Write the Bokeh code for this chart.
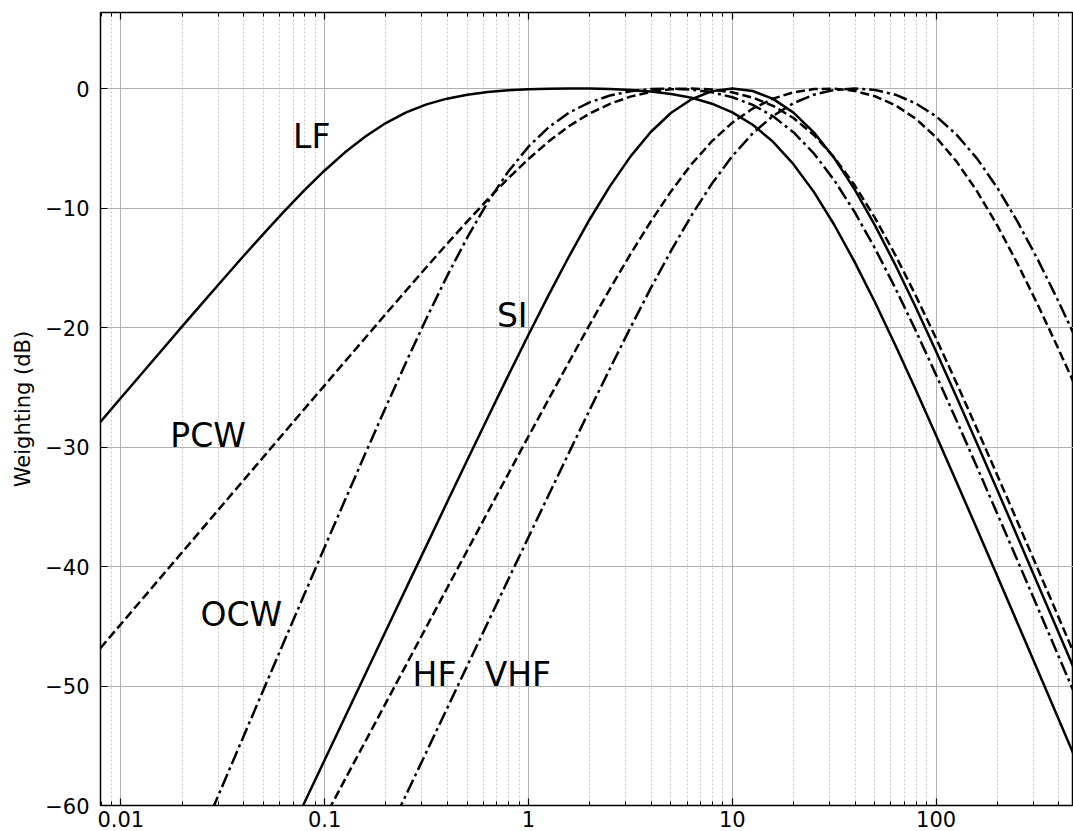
from bokeh.plotting import figure
from bokeh.models import Range1d, FixedTicker, LogAxis
from bokeh.core.properties import value
from bokeh.embed import file_html
from bokeh.resources import INLINE

# frequency samples (kHz), 10 per decade
freq = [0.007943, 0.01, 0.01259, 0.01585, 0.01995, 0.02512, 0.03162, 0.03981, 0.05012, 0.06310,
        0.07943, 0.1, 0.1259, 0.1585, 0.1995, 0.2512, 0.3162, 0.3981, 0.5012, 0.6310,
        0.7943, 1.0, 1.259, 1.585, 1.995, 2.512, 3.162, 3.981, 5.012, 6.310,
        7.943, 10.0, 12.59, 15.85, 19.95, 25.12, 31.62, 39.81, 50.12, 63.10,
        79.43, 100.0, 125.9, 158.5, 199.5, 251.2, 316.2, 398.1, 501.2]

lf_db = [-27.90, -25.90, -23.91, -21.92, -19.93, -17.96, -16.00, -14.06, -12.16, -10.30,
         -8.53, -6.86, -5.34, -4.01, -2.89, -2.00, -1.33, -0.85, -0.52, -0.30,
         -0.15, -0.06, -0.02, 0.00, -0.01, -0.05, -0.13, -0.25, -0.46, -0.78,
         -1.27, -2.00, -3.03, -4.46, -6.33, -8.65, -11.40, -14.51, -17.89, -21.48,
         -25.21, -29.03, -32.92, -36.85, -40.80, -44.77, -48.75, -52.74, -56.73]

pcw_db = [-46.83, -44.83, -42.83, -40.83, -38.83, -36.83, -34.83, -32.83, -30.83, -28.83,
          -26.83, -24.84, -22.84, -20.86, -18.87, -16.90, -14.94, -13.01, -11.12, -9.28,
          -7.53, -5.90, -4.42, -3.14, -2.09, -1.28, -0.68, -0.29, -0.07, 0.00,
          -0.08, -0.32, -0.76, -1.45, -2.47, -3.89, -5.76, -8.08, -10.83, -13.94,
          -17.33, -20.92, -24.65, -28.47, -32.36, -36.29, -40.24, -44.22, -48.20]

ocw_freq = freq[5:]
ocw_db = [-62.29, -58.30, -54.30, -50.31, -46.32, -42.35, -38.38, -34.44, -30.53, -26.67,
          -22.88, -19.22, -15.72, -12.46, -9.52, -6.97, -4.87, -3.23, -2.01, -1.16,
          -0.59, -0.23, -0.05, 0.00, -0.09, -0.32, -0.73, -1.37, -2.33, -3.66,
          -5.43, -7.67, -10.33, -13.38, -16.71, -20.26, -23.97, -27.78, -31.66, -35.58,
          -39.53, -43.50, -47.48, -51.46]

si_freq = freq[9:]
si_db = [-63.39, -59.79, -56.19, -52.59, -49.00, -45.40, -41.81, -38.23, -34.65, -31.09,
         -27.55, -24.05, -20.61, -17.25, -14.02, -10.96, -8.17, -5.70, -3.64, -2.03,
         -0.90, -0.22, 0.00, -0.21, -0.87, -2.02, -3.67, -5.82, -8.44, -11.45,
         -14.77, -18.31, -22.00, -25.81, -29.68, -33.60, -37.55, -41.52, -45.50, -49.48]

hf_freq = freq[10:]
hf_db = [-64.22, -61.02, -57.82, -54.63, -51.43, -48.23, -45.03, -41.84, -38.65, -35.46,
         -32.28, -29.11, -25.97, -22.85, -19.77, -16.77, -13.87, -11.13, -8.59, -6.33,
         -4.41, -2.86, -1.68, -0.85, -0.32, -0.05, -0.01, -0.20, -0.65, -1.40,
         -2.53, -4.09, -6.11, -8.58, -11.46, -14.68, -18.14, -21.79, -25.55]

vhf_freq = freq[14:]
vhf_db = [-62.69, -59.09, -55.50, -51.90, -48.30, -44.71, -41.12, -37.55, -33.98, -30.43,
          -26.90, -23.43, -20.02, -16.71, -13.56, -10.62, -7.96, -5.66, -3.76, -2.29,
          -1.23, -0.52, -0.12, 0.00, -0.12, -0.52, -1.24, -2.33, -3.86, -5.85,
          -8.30, -11.16, -14.36, -17.81, -21.45]

label_text = ["LF", "PCW", "OCW", "SI", "HF", "VHF"]
label_x = [0.07, 0.0175, 0.0246, 0.7, 0.27, 0.61]
label_y = [-5, -30, -45, -20, -50, -50]

x_ticks = [0.01, 0.1, 1, 10, 100]
x_tick_labels = ["0.01", "0.1", "1", "10", "100"]
y_ticks = [-60, -50, -40, -30, -20, -10, 0]
y_tick_labels = ["\u221260", "\u221250", "\u221240", "\u221230", "\u221220", "\u221210", "0"]

FONT = "DejaVu Sans"

p = figure(width=1073, height=831, x_axis_type="log",
           x_range=Range1d(0.00795, 472), y_range=Range1d(-60, 6.36),
           output_backend="svg", toolbar_location=None,
           min_border_left=100, min_border_right=0, min_border_top=12, min_border_bottom=26)
p.background_fill_color = "white"
p.border_fill_color = "white"
p.outline_line_color = "black"
p.outline_line_width = 1.5

minor = []
for dec in [0.001, 0.01, 0.1, 1, 10, 100]:
    for m in range(2, 10):
        minor.append(round(dec * m, 6))

xt = FixedTicker(ticks=x_ticks, minor_ticks=minor)
yt = FixedTicker(ticks=y_ticks, minor_ticks=[])

p.xaxis.ticker = xt
p.xgrid.ticker = xt
p.yaxis.ticker = yt
p.ygrid.ticker = yt

p.xaxis.major_label_overrides = dict(zip(x_ticks, x_tick_labels))
p.yaxis.major_label_overrides = dict(zip(y_ticks, y_tick_labels))

for ax in (p.xaxis[0], p.yaxis[0]):
    ax.axis_line_color = None
    ax.major_tick_in = 7
    ax.major_tick_out = 0
    ax.minor_tick_in = 4
    ax.minor_tick_out = 0
    ax.major_tick_line_color = "black"
    ax.minor_tick_line_color = "black"
    ax.major_tick_line_width = 1.2
    ax.minor_tick_line_width = 1
    ax.major_label_text_font = FONT
    ax.major_label_text_font_size = "21px"
    ax.major_label_text_color = "black"

p.xaxis.major_label_standoff = 5
p.yaxis.major_label_standoff = 11
p.yaxis.axis_label = "Weighting (dB)"
p.yaxis.axis_label_text_font = FONT
p.yaxis.axis_label_text_font_size = "21px"
p.yaxis.axis_label_text_font_style = "normal"
p.yaxis.axis_label_text_color = "black"
p.yaxis.axis_label_standoff = 7

top = LogAxis(ticker=xt, axis_line_color=None,
              major_tick_in=7, major_tick_out=0, minor_tick_in=4, minor_tick_out=0,
              major_tick_line_color="black", minor_tick_line_color="black",
              major_tick_line_width=1.2, minor_tick_line_width=1,
              major_label_text_font_size="1px", major_label_text_alpha=0,
              major_label_standoff=0)
top.major_label_overrides = {t: "" for t in x_ticks}
p.add_layout(top, "above")

p.xgrid.grid_line_color = "#b0b0b0"
p.xgrid.grid_line_width = 1
p.xgrid.minor_grid_line_color = "#c8c8c8"
p.xgrid.minor_grid_line_dash = "2 2"
p.xgrid.minor_grid_line_width = 1
p.ygrid.grid_line_color = "#b0b0b0"
p.ygrid.grid_line_width = 1

LW = 2.5
DASH = "9 4"
DASHDOT = "14 4 3 4"
p.line(freq, lf_db, line_color="black", line_width=LW)
p.line(si_freq, si_db, line_color="black", line_width=LW)
p.line(freq, pcw_db, line_color="black", line_width=LW, line_dash=DASH)
p.line(hf_freq, hf_db, line_color="black", line_width=LW, line_dash=DASH)
p.line(ocw_freq, ocw_db, line_color="black", line_width=LW, line_dash=DASHDOT)
p.line(vhf_freq, vhf_db, line_color="black", line_width=LW, line_dash=DASHDOT)

p.text(x=label_x, y=label_y, text=label_text, text_font=value(FONT),
       text_font_size="33px", text_color="black",
       text_align="left", text_baseline="alphabetic", y_offset=-12)

open("out.html", "w").write(file_html(p, INLINE))
